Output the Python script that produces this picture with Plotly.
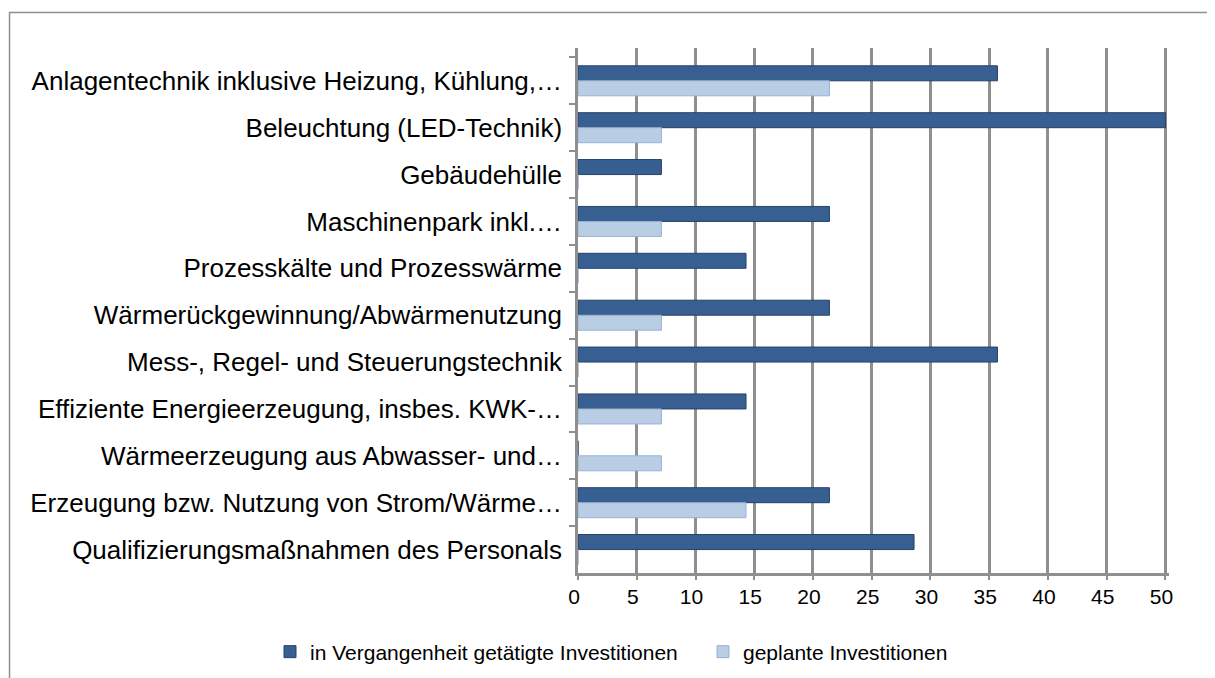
import plotly.graph_objects as go

categories = [
    "Anlagentechnik inklusive Heizung, Kühlung,…",
    "Beleuchtung (LED-Technik)",
    "Gebäudehülle",
    "Maschinenpark inkl.…",
    "Prozesskälte und Prozesswärme",
    "Wärmerückgewinnung/Abwärmenutzung",
    "Mess-, Regel- und Steuerungstechnik",
    "Effiziente Energieerzeugung, insbes. KWK-…",
    "Wärmeerzeugung aus Abwasser- und…",
    "Erzeugung bzw. Nutzung von Strom/Wärme…",
    "Qualifizierungsmaßnahmen des Personals",
]
past_investments = [35.7, 50.0, 7.1, 21.4, 14.3, 21.4, 35.7, 14.3, 0.0, 21.4, 28.6]
planned_investments = [21.4, 7.1, 0.0, 7.1, 0.0, 7.1, 0.0, 7.1, 7.1, 14.3, 0.0]
series_names = ["in Vergangenheit getätigte Investitionen", "geplante Investitionen"]
x_ticks = [0, 5, 10, 15, 20, 25, 30, 35, 40, 45, 50]

# page body has an 8px margin; figure sized to fit the viewport
OFF = 8
W, H = 1215 - OFF, 678 - OFF
L = 578 - OFF
X_MAX = 50.3
pw = 587 * X_MAX / 50
R = W - L - pw
B = H - (573 - OFF)
T = (57 - OFF) - 0.2 * 46.9
ph = H - T - B

def px_x(px):
    return (px - OFF - L) / pw

def px_y(py):
    return (H - B - (py - OFF)) / ph

legend_y = 1 - (652 - OFF) / H

fig = go.Figure()
fig.add_trace(go.Bar(
    y=categories, x=past_investments, orientation="h", name=series_names[0],
    marker=dict(color="#375f91", line=dict(color="#26426a", width=1)),
    legend="legend",
))
fig.add_trace(go.Bar(
    y=categories, x=planned_investments, orientation="h", name=series_names[1],
    marker=dict(color="#b9cde5", line=dict(color="#98b2d3", width=1)),
    legend="legend2",
))

legend_common = dict(orientation="h", xanchor="left", xref="container",
                     yanchor="middle", yref="container", font=dict(size=21),
                     itemwidth=30, bgcolor="rgba(0,0,0,0)")

fig.update_layout(
    width=W, height=H,
    margin=dict(l=L, r=R, t=T, b=B, autoexpand=False),
    paper_bgcolor="white", plot_bgcolor="white",
    barmode="group", bargap=0.36, bargroupgap=0.0,
    font=dict(family="Liberation Sans, Arial, sans-serif", color="black"),
    showlegend=True,
    legend=dict(x=(270 - OFF) / W, y=legend_y, **legend_common),
    legend2=dict(x=(703 - OFF) / W, y=legend_y, **legend_common),
    xaxis=dict(range=[0, X_MAX], tickvals=x_ticks, ticktext=[str(v) for v in x_ticks],
               showgrid=True, gridcolor="#8f8f8f", gridwidth=2.5,
               showline=True, linecolor="#8f8f8f", linewidth=2.5,
               ticks="outside", ticklen=4, tickcolor="#8f8f8f", tickwidth=1.5,
               tickfont=dict(size=21), ticklabelshift=-4, ticklabelstandoff=-1,
               zeroline=False, fixedrange=True),
    yaxis=dict(autorange=False, range=[10.5, -0.7], showgrid=False,
               showline=True, linecolor="#8f8f8f", linewidth=2.5,
               ticks="outside", ticklen=6, tickcolor="#8f8f8f", tickwidth=1.5,
               tickson="boundaries", tickfont=dict(size=26), ticklabelstandoff=8,
               fixedrange=True),
    shapes=[
        dict(type="rect", xref="paper", yref="paper",
             x0=px_x(10), x1=px_x(1215 + 20), y0=px_y(12), y1=px_y(678 + 20),
             line=dict(color="#8f8f8f", width=1.5), fillcolor="rgba(0,0,0,0)",
             layer="below"),
    ],
)

fig.write_html("out.html")
